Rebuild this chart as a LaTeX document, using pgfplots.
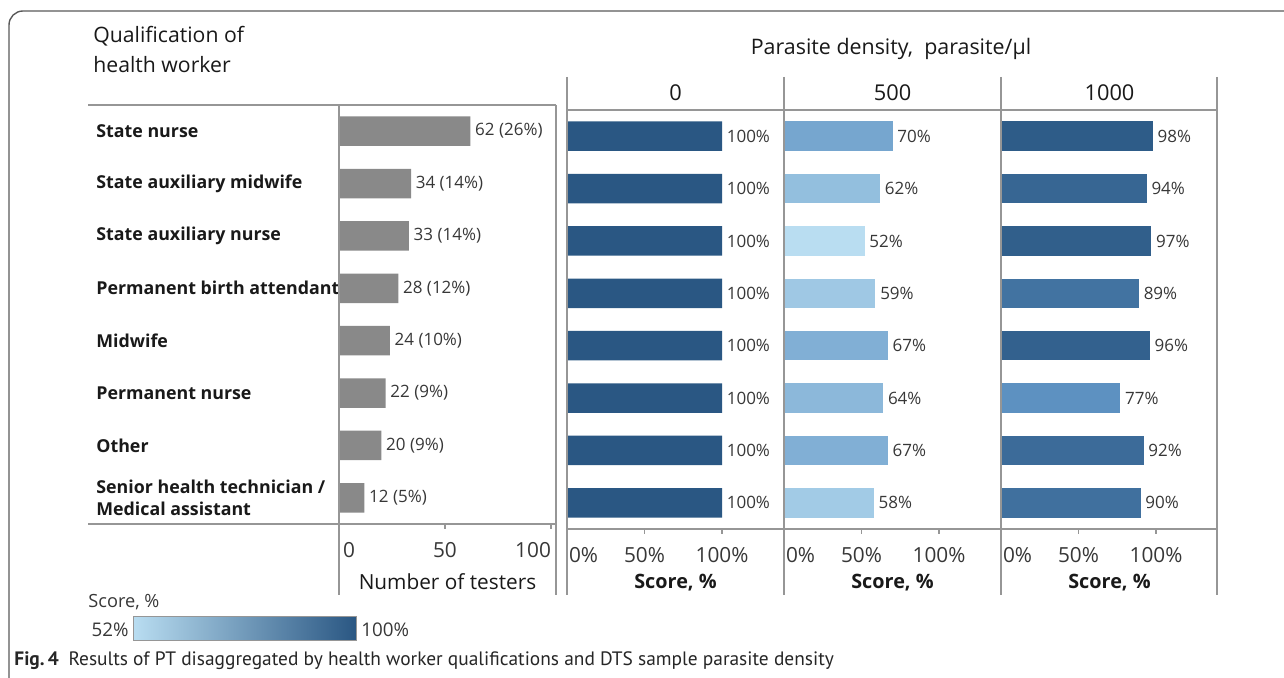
\documentclass[border=0pt]{standalone}
\usepackage{pgfplots}
\pgfplotsset{compat=1.18}
\usepackage{fontspec}
\setmainfont{Open Sans}
\newfontfamily\capfont{PT Sans}
\definecolor{sclight}{RGB}{185,221,241}
\definecolor{scmid}{RGB}{95,148,196}
\definecolor{scdark}{RGB}{42,87,131}
\definecolor{barg}{RGB}{137,137,137}
\definecolor{gridc}{RGB}{150,150,150}
\definecolor{txt}{RGB}{55,55,55}
\definecolor{lab}{RGB}{25,25,25}
\newcommand{\fsz}[1]{\fontsize{#1}{1.25\dimexpr #1pt\relax}\selectfont}
\pgfplotsset{
  sb/.style={xbar, bar width=0.563, draw=none, point meta=explicit symbolic,
    nodes near coords, nodes near coords align={horizontal},
    every node near coord/.append style={font=\fsz{8.5}, text=txt, inner sep=2.2pt, anchor=west}},
  common/.style={
    scale only axis, width=108.5pt, height=209.5pt, anchor=south west,
    xmin=0, ymin=-0.5, ymax=7.5, y dir=reverse,
    axis x line*=bottom, axis y line*=left, axis line style={draw=none},
    tick align=outside, major tick length=2.5pt,
    tick style={gridc, line width=0.6pt},
    xticklabel style={font=\fsz{10.4}, text=txt, inner sep=0pt, yshift=-6.5pt},
    every axis x label/.style={at={(axis description cs:0.5,0)}, anchor=center, font=\fsz{10.4}, text=lab},
    every axis title/.style={at={(axis description cs:0.5,1)}, anchor=center, yshift=8.5pt, font=\fsz{10.9}, text=lab},
    clip=false,
  },
  score/.style={common, xmax=140, ytick=\empty,
    xtick={0,50,100}, xticklabels={\makebox[0pt][l]{\hspace{1pt}0\%},50\%,100\%},
    xlabel={\bfseries\fsz{9.9}Score, \%}, xlabel style={yshift=-27pt}},
}
\begin{document}
\begin{tikzpicture}[x=0.5pt,y=0.5pt]
\useasboundingbox (0,0) rectangle (1284,678);
\draw[black!65, line width=0.7pt, rounded corners=7pt] (9,-40) -- (9,667) -- (1330,667);

% headers
\node[anchor=base west, inner sep=0pt, text=lab] at (93,635) {\fsz{10.6}Qualification of};
\node[anchor=base west, inner sep=0pt, text=lab] at (93,605.5) {\fsz{10.6}health worker};
\node[anchor=base, inner sep=0pt, text=lab] at (891,623) {\fsz{10.7}Parasite density,\ \ parasite/µl};

% left panel: number of testers
\begin{axis}[common, at={(169.5pt,77pt)}, xmax=102.4,
  xtick={0,50,100}, xticklabels={\makebox[0pt][l]{\hspace{2pt}0},50,\makebox[0pt][r]{100}},
  ytick={0,1,2,3,4,5,6,7},
  yticklabels={State nurse,State auxiliary midwife,State auxiliary nurse,Permanent birth attendant,Midwife,Permanent nurse,Other,{Senior health technician /\\Medical assistant}},
  ytick style={draw=none},
  yticklabel style={font=\bfseries\fsz{8.9}, anchor=west, align=left, inner sep=0pt, xshift=-119pt, text=lab},
  xlabel={Number of testers}, xlabel style={yshift=-29pt}]
\addplot[sb, fill=barg] coordinates {
 (62,0) [62 (26\%)]
 (34,1) [34 (14\%)]
 (33,2) [33 (14\%)]
 (28,3) [28 (12\%)]
 (24,4) [24 (10\%)]
 (22,5) [22 (9\%)]
 (20,6) [20 (9\%)]
 (12,7) [12 (5\%)]
};
\end{axis}

% parasite density 0
\begin{axis}[score, at={(283.5pt,74.5pt)}, title={0}]
\addplot[sb, fill=scdark] coordinates {
 (100,0) [100\%] (100,1) [100\%] (100,2) [100\%] (100,3) [100\%]
 (100,4) [100\%] (100,5) [100\%] (100,6) [100\%] (100,7) [100\%]
};
\end{axis}

% parasite density 500
\begin{axis}[score, at={(392pt,74.5pt)}, title={500}]
\addplot[sb, fill=scmid!75!sclight] coordinates {(70,0) [70\%]};
\addplot[sb, fill=scmid!41.7!sclight] coordinates {(62,1) [62\%]};
\addplot[sb, fill=sclight] coordinates {(52,2) [52\%]};
\addplot[sb, fill=scmid!29.2!sclight] coordinates {(59,3) [59\%]};
\addplot[sb, fill=scmid!62.5!sclight] coordinates {(67,4) [67\%]};
\addplot[sb, fill=scmid!50!sclight] coordinates {(64,5) [64\%]};
\addplot[sb, fill=scmid!62.5!sclight] coordinates {(67,6) [67\%]};
\addplot[sb, fill=scmid!25!sclight] coordinates {(58,7) [58\%]};
\end{axis}

% parasite density 1000
\begin{axis}[score, at={(500.5pt,74.5pt)}, title={1000}]
\addplot[sb, fill=scdark!91.7!scmid] coordinates {(98,0) [98\%]};
\addplot[sb, fill=scdark!75!scmid] coordinates {(94,1) [94\%]};
\addplot[sb, fill=scdark!87.5!scmid] coordinates {(97,2) [97\%]};
\addplot[sb, fill=scdark!54.2!scmid] coordinates {(89,3) [89\%]};
\addplot[sb, fill=scdark!83.3!scmid] coordinates {(96,4) [96\%]};
\addplot[sb, fill=scdark!4.2!scmid] coordinates {(77,5) [77\%]};
\addplot[sb, fill=scdark!66.7!scmid] coordinates {(92,6) [92\%]};
\addplot[sb, fill=scdark!58.3!scmid] coordinates {(90,7) [90\%]};
\end{axis}

% table lines
\begin{scope}[gridc, line width=0.65pt]
\draw (88,573) -- (556,573);
\draw (88,154) -- (556,154);
\draw (339,573) -- (339,83);
\draw (556,573) -- (556,83);
\draw (567,601) -- (567,83);
\draw (784,601) -- (784,83);
\draw (1001,601) -- (1001,83);
\draw (1217,601) -- (1217,83);
\draw (567,568) -- (1217,568);
\draw (567,149) -- (1217,149);
\end{scope}

% colour legend
\node[anchor=west, inner sep=0pt, text=txt] at (88,76) {\fsz{9.1}Score, \%};
\shade[left color=sclight, middle color=scmid, right color=scdark] (133,37) rectangle (356,61);
\draw[gridc, line width=0.5pt] (133,37) rectangle (356,61);
\node[anchor=east, inner sep=0pt, text=txt] at (129,48) {\fsz{9.4}52\%};
\node[anchor=west, inner sep=0pt, text=txt] at (361,48) {\fsz{9.4}100\%};

% caption
\node[anchor=base west, inner sep=0pt, text=black!85] at (14,12) {\capfont\fsz{9.7}\textbf{Fig.\,4}\hspace{0.5em}Results of PT disaggregated by health worker qualifications and DTS sample parasite density};
\end{tikzpicture}
\end{document}
